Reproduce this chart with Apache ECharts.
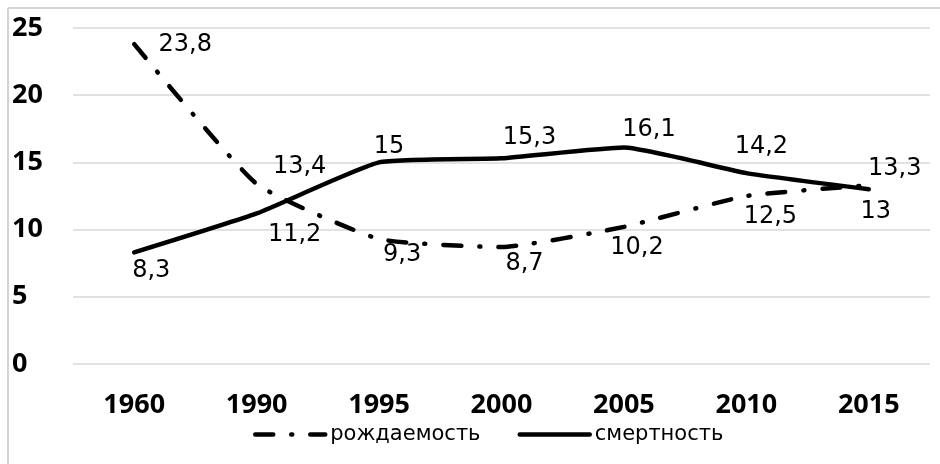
<!DOCTYPE html>
<html><head><meta charset="utf-8">
<script src="https://cdn.jsdelivr.net/npm/echarts@6/dist/echarts.min.js"></script>
<style>html,body{margin:0;padding:0;background:#fff}#c{width:940px;height:464px}</style>
</head><body><div id="c"></div>
<script>
const years = ['1960','1990','1995','2000','2005','2010','2015'];
const birthRate = [23.8, 13.4, 9.3, 8.7, 10.2, 12.5, 13.3];
const deathRate = [8.3, 11.2, 15, 15.3, 16.1, 14.2, 13];
const yTicks = [0, 5, 10, 15, 20, 25];
const seriesNames = ['рождаемость', 'смертность'];

// label offsets (label centre relative to point), styling only
const birthLabelOffsets = [[51,1],[43,-17],[23,16],[23,17],[13,21],[24,21],[26,-16]];
const deathLabelOffsets = [[17,18],[38,21],[10,-16],[28,-21],[25,-18],[15,-26],[7,22]];

const labelFont = {fontFamily:'DejaVu Sans', fontSize:24, color:'#000'};
function fmt(v){ return String(v).replace('.', ','); }
function mkData(vals, offs){
  return vals.map((v,i)=>({value:v, label:{offset:offs[i]}}));
}

const chart = echarts.init(document.getElementById('c'), null, {renderer:'canvas'});
chart.setOption({
  animation:false,
  backgroundColor:'#fff',
  grid:{left:73, right:10, top:28, bottom:100},
  xAxis:{type:'category', data:years, boundaryGap:true,
    axisLine:{show:false}, axisTick:{show:false},
    axisLabel:{fontFamily:'Noto Sans', fontWeight:'bold', fontSize:27, color:'#000', margin:28}},
  yAxis:{type:'value', min:yTicks[0], max:yTicks[yTicks.length-1], interval:5,
    axisLine:{show:false}, axisTick:{show:false},
    splitLine:{lineStyle:{color:'#d9d9d9', width:1.5}},
    axisLabel:{fontFamily:'Noto Sans', fontWeight:'bold', fontSize:27, color:'#000', align:'left', margin:61}},
  legend:{left:248, top:419, itemWidth:70, itemHeight:14, itemGap:37,
    lineStyle:{width:4.5},
    textStyle:{fontFamily:'DejaVu Sans', fontSize:21, color:'#000'},
    data:seriesNames},
  graphic:[
    {type:'line', shape:{x1:8,y1:8,x2:940,y2:8}, style:{stroke:'#d4d4d4', lineWidth:2}, silent:true},
    {type:'line', shape:{x1:8,y1:8,x2:8,y2:464}, style:{stroke:'#d4d4d4', lineWidth:2}, silent:true}
  ],
  series:[
    {name:seriesNames[0], type:'line', smooth:0.15, data:mkData(birthRate, birthLabelOffsets),
     symbol:'circle', symbolSize:0, itemStyle:{color:'rgba(0,0,0,0)'},
     lineStyle:{color:'#000', width:4.5, type:[18,18,1,18], cap:'round'},
     label:{show:true, position:'inside', formatter:p=>fmt(p.value), ...labelFont}},
    {name:seriesNames[1], type:'line', smooth:0.15, data:mkData(deathRate, deathLabelOffsets),
     symbol:'circle', symbolSize:0, itemStyle:{color:'rgba(0,0,0,0)'},
     lineStyle:{color:'#000', width:4.5, type:'solid', cap:'round'},
     label:{show:true, position:'inside', formatter:p=>fmt(p.value), ...labelFont}}
  ]
});
</script></body></html>
